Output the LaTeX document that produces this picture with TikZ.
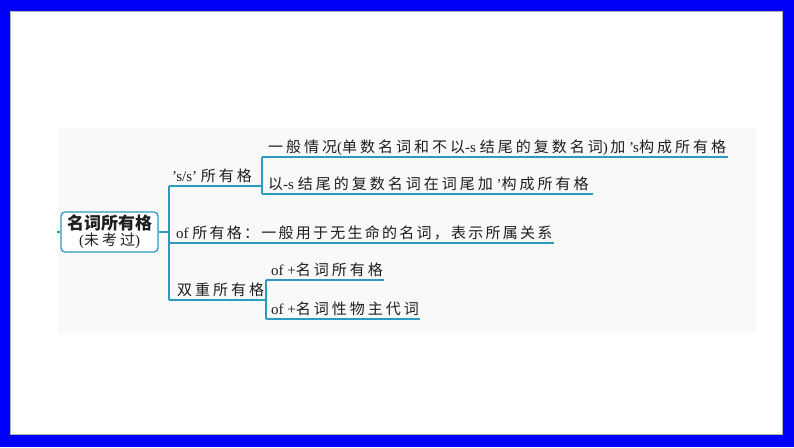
\documentclass[tikz,border=0pt]{standalone}
\usepackage{fontspec}
\setmainfont{Liberation Serif}
\newfontfamily\cjk[LetterSpace=20]{Noto Sans CJK SC}
\newfontfamily\cjkn[LetterSpace=15]{Noto Sans CJK SC}
\newfontfamily\cjkr{Noto Sans CJK SC}
\definecolor{teal1}{RGB}{45,155,190}
\definecolor{frameblue}{RGB}{0,0,250}
\definecolor{txt}{RGB}{30,30,30}
\tikzset{
  ln/.style={draw=teal1, line width=1.3pt},
  lbl/.style={anchor=south west, inner xsep=3pt, inner ysep=1.5pt, text depth=3pt, text height=11pt,
    font=\fontsize{15}{17}\selectfont, text=txt},
}
\begin{document}
\begin{tikzpicture}[x=1pt,y=-1pt]
\fill[frameblue] (0,0) rectangle (794,447);
\filldraw[fill=white, draw=gray!60, line width=0.8pt] (10.5,11.5) rectangle (782.5,434);
\fill[gray!5] (58,128) rectangle (756,333);
\useasboundingbox (0,0) rectangle (794,447);

\node[draw=teal1, line width=1.3pt, rounded corners=4pt, fill=white, minimum width=97pt, minimum height=40pt,
  inner sep=0pt, align=center, text=txt] (root) at (109.5,232)
  {{\cjkr\bfseries\fontsize{17}{18}\selectfont 名词所有格}\\[1pt]{\fontsize{15}{16}\selectfont ({\cjk 未考过})}};
\coordinate (stub) at (57,232);

\node[lbl] (b1) at (169,186) {’s/s’ {\cjk 所有格}};
\coordinate (j1) at (262,186);
\node[lbl, inner xsep=6pt] (b1a) at (262,157) {{\cjk 一般情况}({\cjk 单数名词和不以}-s {\cjk 结尾的复数名词})\,{\cjk 加} ’s{\cjk 构成所有格}};
\coordinate (e1a) at (728,157);
\node[lbl, inner xsep=6pt] (b1b) at (262,194) {{\cjk 以}-s {\cjk 结尾的复数名词在词尾加} ’{\cjk 构成所有格}};
\coordinate (e1b) at (593,194);
\node[lbl, inner xsep=7pt] (b2) at (169,243) {of {\cjkn 所有格：一般用于无生命的名词，表示所属关系}};
\coordinate (e2) at (554,243);
\node[lbl, inner xsep=8pt] (b3) at (169,300) {{\cjk 双重所有格}};
\coordinate (j3) at (266,300);
\node[lbl, inner xsep=5pt] (b3a) at (266,280) {of +{\cjk 名词所有格}};
\coordinate (e3a) at (384,280);
\node[lbl, inner xsep=5pt] (b3b) at (266,319) {of +{\cjk 名词性物主代词}};
\coordinate (e3b) at (420,319);

\draw[ln] (stub) -- (root.west);
\draw[ln] (root.east) -- (root.east -| b1.south west);
\draw[ln] (b1.south west) -- (b3.south west);
\draw[ln] (b1.south west) -- (j1);
\draw[ln] (b1a.south west) -- (b1b.south west);
\draw[ln] (b1a.south west) -- (e1a);
\draw[ln] (b1b.south west) -- (e1b);
\draw[ln] (b2.south west) -- (e2);
\draw[ln] (b3.south west) -- (j3);
\draw[ln] (b3a.south west) -- (b3b.south west);
\draw[ln] (b3a.south west) -- (e3a);
\draw[ln] (b3b.south west) -- (e3b);
\end{tikzpicture}
\end{document}
